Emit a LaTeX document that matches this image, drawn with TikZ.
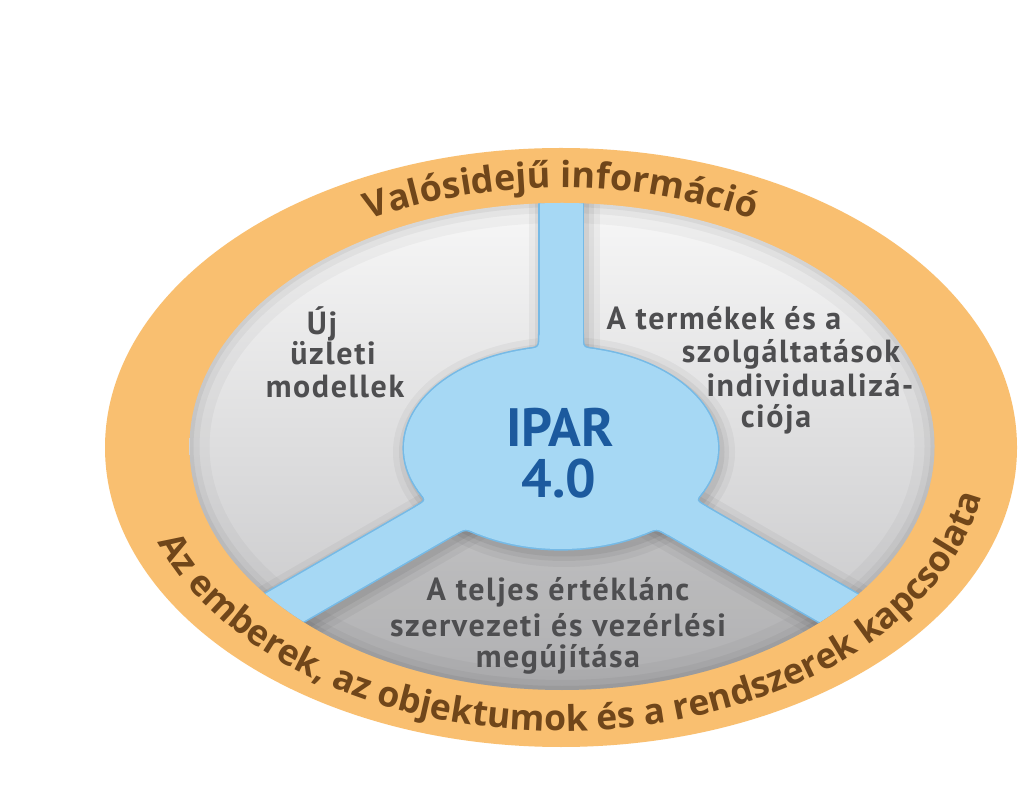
\documentclass[tikz,border=0pt]{standalone}
\usepackage{fontspec}
\setmainfont{PT Sans}
\newfontfamily\bandfam{Open Sans}
\newfontfamily\secfam[LetterSpace=5]{PT Sans}
\usetikzlibrary{decorations.text,calc}
\definecolor{bandorange}{RGB}{249,191,112}
\definecolor{bandbrown}{RGB}{112,70,26}
\definecolor{txtgray}{RGB}{78,78,80}
\definecolor{spokefill}{RGB}{166,216,244}
\definecolor{spokeedge}{RGB}{118,186,230}
\definecolor{ipar}{RGB}{28,90,158}
\definecolor{gtop}{RGB}{247,247,247}
\definecolor{gbot}{RGB}{196,196,198}
\newcommand\bandfonttop{\bandfam\fontsize{36pt}{36pt}\selectfont\bfseries}
\newcommand\bandfontbot{\bandfam\fontsize{35.5pt}{35.5pt}\selectfont\bfseries}
\newcommand\hubpieces[1]{%
  \path[#1] (0,0) ellipse [x radius=157pt, y radius=101pt];
  \path[#1] (-21.5,0) rectangle (21.5,400);
  \begin{scope}[rotate=210]\path[#1] (0,-21.5) rectangle (500,21.5);\end{scope}
  \begin{scope}[rotate=330]\path[#1] (0,-21.5) rectangle (500,21.5);\end{scope}
}
\newcommand\hubfillets[1]{%
  \path[#1] (-21.5,114.05) .. controls (-21.5,100.05) .. (103:157pt and 101pt) -- (0,0) -- cycle;
  \path[#1] (21.5,114.05) .. controls (21.5,100.05) .. (77:157pt and 101pt) -- (0,0) -- cycle;
  \path[#1] (-107.8,-87.07) .. controls (-95.7,-80.1) .. (238.2:157pt and 101pt) -- (0,0) -- cycle;
  \path[#1] (-146.2,-59.6) .. controls (-134.1,-52.6) .. (204.7:157pt and 101pt) -- (0,0) -- cycle;
  \path[#1] (107.8,-87.07) .. controls (95.7,-80.1) .. (301.8:157pt and 101pt) -- (0,0) -- cycle;
  \path[#1] (146.2,-59.6) .. controls (134.1,-52.6) .. (335.3:157pt and 101pt) -- (0,0) -- cycle;
}
\tikzset{
  sectortext/.style={font=\secfam\fontsize{32pt}{32pt}\selectfont\bfseries, text=txtgray, anchor=base, inner sep=0pt},
  hubtext/.style={font=\fontsize{54pt}{54pt}\selectfont\bfseries, text=ipar, anchor=base, inner sep=0pt},
}
\begin{document}
\begin{tikzpicture}[x=1pt,y=1pt]
\useasboundingbox (0,0) rectangle (1024,803);
\fill[white] (0,0) rectangle (1024,803);
\coordinate (C) at (561,355);
% orange band
\fill[bandorange] (561,355.5) ellipse [x radius=456pt, y radius=299.5pt];
% gray disc
\shade[top color=gtop, bottom color=gbot] (562,356.5) ellipse [x radius=372.5pt, y radius=243.5pt];
\begin{scope}
  \clip (562,356.5) ellipse [x radius=372.5pt, y radius=243.5pt];
  % darker lower sector
  \fill[black, opacity=0.10] (C) -- ($(C)+(210:700pt)$) -- ($(C)+(270:700pt)$) -- ($(C)+(330:700pt)$) -- cycle;
  % inner rim shadow
  \foreach \w/\o in {40/0.03, 20/0.04, 8/0.05} {
    \draw[black, opacity=\o, line width=\w pt] (562,356.5) ellipse [x radius=372.5pt, y radius=243.5pt];
  }
  \begin{scope}[shift={(561,355)}]
    % soft shadow of hub and spokes
    \begin{scope}[shift={(3,-4)}]
      \hubpieces{draw=black, opacity=0.04, line width=28pt}
      \hubpieces{draw=black, opacity=0.05, line width=16pt}
      \hubpieces{draw=black, opacity=0.06, line width=7pt}
    \end{scope}
    % outline pass
    \hubpieces{draw=spokeedge, line width=3.2pt, line join=round}
    \hubfillets{draw=spokeedge, line width=3.2pt, line join=round}
    % fill pass
    \hubpieces{fill=spokefill}
    \hubfillets{fill=spokefill}
  \end{scope}
\end{scope}
% hub label
\node[hubtext] (ipar) at (560,356) {IPAR};
\node[hubtext] (ver) at (559,305) {4.0};
% left sector
\node[sectortext] (l1) at (322,468) {Új};
\node[sectortext] (l2) at (333,438) {üzleti};
\node[sectortext] (l3) at (335,405) {modellek};
% right sector
\node[sectortext] (r1) at (724,473) {A termékek és a};
\node[sectortext] (r2) at (791,440) {szolgáltatások};
\node[sectortext] (r3) at (810,406) {individualizá-};
\node[sectortext] (r4) at (776,375) {ciója};
% lower sector
\node[sectortext] (b1) at (558,202) {A teljes értéklánc};
\node[sectortext] (b2) at (558,167) {szervezeti és vezérlési};
\node[sectortext] (b3) at (558,136) {megújítása};
% band texts
\path[decorate, decoration={text along path, text={|\bandfonttop|Valósidejű információ}, text align=center, text color=bandbrown}]
  ($(C)+(170:400pt and 260pt)$) arc [start angle=170, end angle=10, x radius=400pt, y radius=260pt];
\path[decorate, decoration={text along path, text={|\bandfontbot|Az emberek, az objektumok és a rendszerek kapcsolata}, text align=center, text color=bandbrown}]
  ($(C)+(178:427pt and 283pt)$) arc [start angle=178, end angle=372, x radius=427pt, y radius=283pt];
\end{tikzpicture}
\end{document}
